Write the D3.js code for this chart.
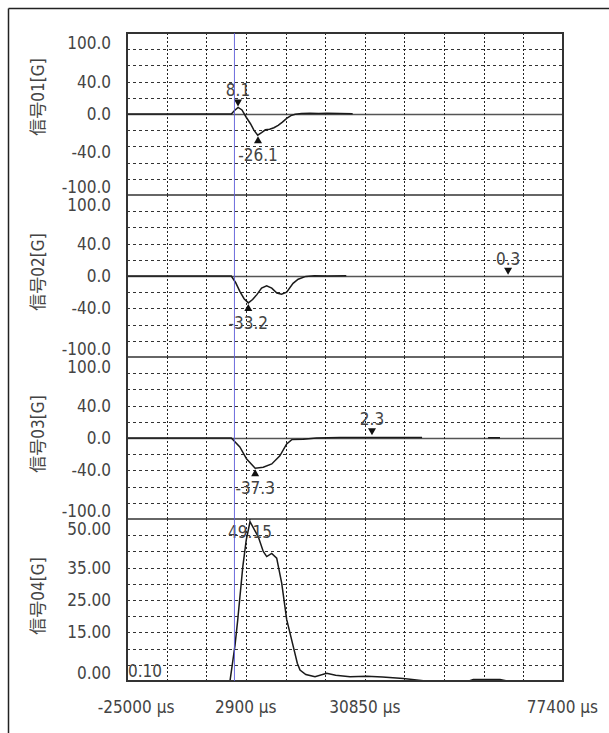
<!DOCTYPE html>
<html><head><meta charset="utf-8">
<script src="https://cdn.jsdelivr.net/npm/d3@7"></script>
<style>
html,body{margin:0;padding:0;background:#fff;}
svg text{font-family:"DejaVu Sans Condensed","Noto Sans CJK JP",sans-serif;fill:#444;}
</style></head>
<body><svg id="c" width="609" height="733"></svg>
<script>
// ---------- data ----------
const xDomain = [-25000, 77400];
const xTickValues = [-25000, 2900, 30850, 77400];
const xTickLabels = ["-25000 µs", "2900 µs", "30850 µs", "77400 µs"];
const channelNames = ["信号01[G]", "信号02[G]", "信号03[G]", "信号04[G]"];
const yDomainSigned = [-100, 100];
const yDomainPositive = [0, 50];
const yTicksSigned = [100, 40, 0, -40, -100];
const yTickLabelsSigned = ["100.0", "40.0", "0.0", "-40.0", "-100.0"];
const yTicksPositive = [50, 35, 25, 15, 0];
const yTickLabelsPositive = ["50.00", "35.00", "25.00", "15.00", "0.00"];
const triggerTime = 0;

// [time µs, value G]; null breaks the trace
const signal01 = [[-25000,0],[-500,0],[200,4],[1100,8.1],[2000,5],[3000,-4],[4000,-12],[4800,-20],[5700,-26.1],[6600,-23],[7500,-19.5],[8500,-18.8],[9500,-17],[10500,-14],[11500,-10],[12500,-5.5],[13500,-2],[14500,-0.3],[16000,0.5],[18000,0.8],[20000,0.6],[22000,0.9],[25000,0.5],[28000,0.3]];
const signal02 = [[-25000,0],[-500,0],[500,-8],[1500,-19],[2500,-28],[3500,-33.2],[4500,-29],[5500,-23],[6600,-15],[7800,-12],[9000,-15],[10200,-21],[11300,-22.5],[12500,-20],[14000,-9],[15200,-4],[17000,-0.5],[19000,0.3],[22000,0],[26500,0.3]];
const signal03 = [[-25000,0],[-500,0],[1500,-11],[3100,-26],[5100,-37.3],[7000,-36],[9000,-32],[10900,-22],[12500,-7.4],[13700,-2],[16400,-1.5],[19500,0],[25000,0.6],[32000,0.5],[38000,0.7],[44300,0.5],null,[59800,0.3],[62600,0.3]];
const signal04 = [[-25000,0.1],[-800,0.1],[365,11],[1000,18.8],[2200,35.3],[3000,43.5],[3888,49.15],[5000,46.5],[5837,44.5],[7000,40],[7811,38.4],[8984,39.4],[10158,37.9],[11333,30.2],[12500,19],[14057,10.6],[15000,5.5],[15631,3.4],[17000,2],[19154,1.3],[21900,2.4],[24000,1.8],[27374,1.3],[31300,1.5],[35000,1.2],[39900,0.8],[44590,0.1],[55500,0.1],[56333,0.5],[62600,0.5],[64000,0.1],[77400,0.1]];
const signals = [signal01, signal02, signal03, signal04];

const markerChannel = [0, 0, 1, 1, 2, 2, 3, 3];
const markerTime    = [1070, 5770, 3490, 64500, 5100, 32540, 3888, -25000];
const markerValue   = [8.1, -26.1, -33.2, 0.3, -37.3, 2.3, 49.15, 0.10];
const markerLabel   = ["8.1", "-26.1", "-33.2", "0.3", "-37.3", "2.3", "49.15", "0.10"];
const markerKind    = ["max", "min", "min", "max", "min", "max", "max", "min"];

// ---------- layout ----------
const svg = d3.select("#c");
const L = 127, R = 563, T = 33, B = 681;
const panelH = (B - T) / 4;
const x = d3.scaleLinear().domain(xDomain).range([L, R]);
const nX = 11;
const xGrid = d3.range(1, nX).map(i => xDomain[0] + i * (xDomain[1] - xDomain[0]) / nX);

// outer frame (top and left visible)
svg.append("line").attr("x1", 8.5).attr("y1", 8.5).attr("x2", 609).attr("y2", 8.5).attr("stroke", "#222").attr("stroke-width", 1.5);
svg.append("line").attr("x1", 8.5).attr("y1", 8.5).attr("x2", 8.5).attr("y2", 733).attr("stroke", "#222").attr("stroke-width", 1.5);

const defs = svg.append("defs");

for (let p = 0; p < 4; p++) {
  const top = T + p * panelH, bot = top + panelH;
  const signed = p < 3;
  const y = d3.scaleLinear().domain(signed ? yDomainSigned : yDomainPositive).range([bot, top]);
  const g = svg.append("g");
  defs.append("clipPath").attr("id", "clip" + p).append("rect")
    .attr("x", L).attr("y", top).attr("width", R - L).attr("height", panelH);

  // horizontal grid
  const d = signed ? 20 : 5;
  const dom = y.domain();
  const hLines = d3.range(dom[0] + d, dom[1] - d / 2, d);
  hLines.forEach(v => {
    const solid = signed && v === 0;
    g.append("line").attr("x1", L).attr("x2", R).attr("y1", Math.round(y(v)) + 0.5).attr("y2", Math.round(y(v)) + 0.5)
      .attr("stroke", solid ? "#555" : "#333").attr("stroke-width", solid ? 1.6 : 1)
      .attr("stroke-dasharray", solid ? null : "3,3");
  });
  // vertical grid
  xGrid.forEach(t => {
    g.append("line").attr("x1", Math.round(x(t)) + 0.5).attr("x2", Math.round(x(t)) + 0.5).attr("y1", top).attr("y2", bot)
      .attr("stroke", "#222").attr("stroke-width", 1).attr("stroke-dasharray", "2,2");
  });

  // y tick labels
  const tv = signed ? yTicksSigned : yTicksPositive;
  const tl = signed ? yTickLabelsSigned : yTickLabelsPositive;
  tv.forEach((v, i) => {
    let yy = Math.max(top + 10, Math.min(bot - 8, y(v)));
    if (p === 0 && v === -40) yy += 6;
    g.append("text").attr("x", 111).attr("y", yy).attr("text-anchor", "end")
      .attr("dominant-baseline", "central").attr("font-size", 17).text(tl[i]);
  });

  // channel title
  const cy = (top + bot) / 2 - (p === 0 ? 17 : 4);
  g.append("text").attr("transform", `translate(38,${cy}) rotate(-90)`)
    .attr("text-anchor", "middle").attr("dominant-baseline", "central")
    .attr("font-size", 17).text(channelNames[p]);

  // signal
  const line = d3.line().defined(dd => dd !== null).x(dd => x(dd[0])).y(dd => y(dd[1]));
  g.append("path").datum(signals[p]).attr("d", line).attr("fill", "none")
    .attr("stroke", "#1a1a1a").attr("stroke-width", 1.5).attr("clip-path", `url(#clip${p})`);

  // markers
  markerChannel.forEach((ch, i) => {
    if (ch !== p) return;
    const mx = x(markerTime[i]), my = y(markerValue[i]);
    const isMax = markerKind[i] === "max";
    const tri = isMax
      ? `M${mx - 4},${my - 8} L${mx + 4},${my - 8} L${mx},${my - 1} Z`
      : `M${mx - 4},${my + 8} L${mx + 4},${my + 8} L${mx},${my + 1} Z`;
    g.append("path").attr("d", tri).attr("fill", "#111").attr("clip-path", `url(#clip${p})`);
    let ly = isMax ? my - 17 : my + 20;
    ly = Math.max(top + 13, Math.min(bot - 10, ly));
    const txt = g.append("text").attr("x", mx).attr("y", ly).attr("text-anchor", "middle")
      .attr("dominant-baseline", "central").attr("font-size", 17).text(markerLabel[i]);
    const w = txt.node().getComputedTextLength();
    if (mx - w / 2 < L + 1) txt.attr("x", L + 1 + w / 2);
    if (mx + w / 2 > R - 1) txt.attr("x", R - 1 - w / 2);
  });
}

// panel separators and plot frame
for (let p = 1; p < 4; p++) {
  svg.append("line").attr("x1", L).attr("x2", R).attr("y1", T + p * panelH).attr("y2", T + p * panelH)
    .attr("stroke", "#333").attr("stroke-width", 1.5);
}
svg.append("rect").attr("x", L).attr("y", T).attr("width", R - L).attr("height", B - T)
  .attr("fill", "none").attr("stroke", "#333").attr("stroke-width", 2);

// trigger line
svg.append("line").attr("x1", x(triggerTime) + 1).attr("x2", x(triggerTime) + 1).attr("y1", T).attr("y2", B)
  .attr("stroke", "#5a5ad8").attr("stroke-width", 0.9);

// x tick labels
xTickValues.forEach((v, i) => {
  const t = svg.append("text").attr("x", x(v)).attr("y", 707).attr("text-anchor", "middle")
    .attr("dominant-baseline", "central").attr("font-size", 17).text(xTickLabels[i]);
  const w = t.node().getComputedTextLength();
  if (i === 0) t.attr("x", x(v) + 9);
  if (x(v) + w / 2 > 598) t.attr("x", 598 - w / 2);
});
</script></body></html>
